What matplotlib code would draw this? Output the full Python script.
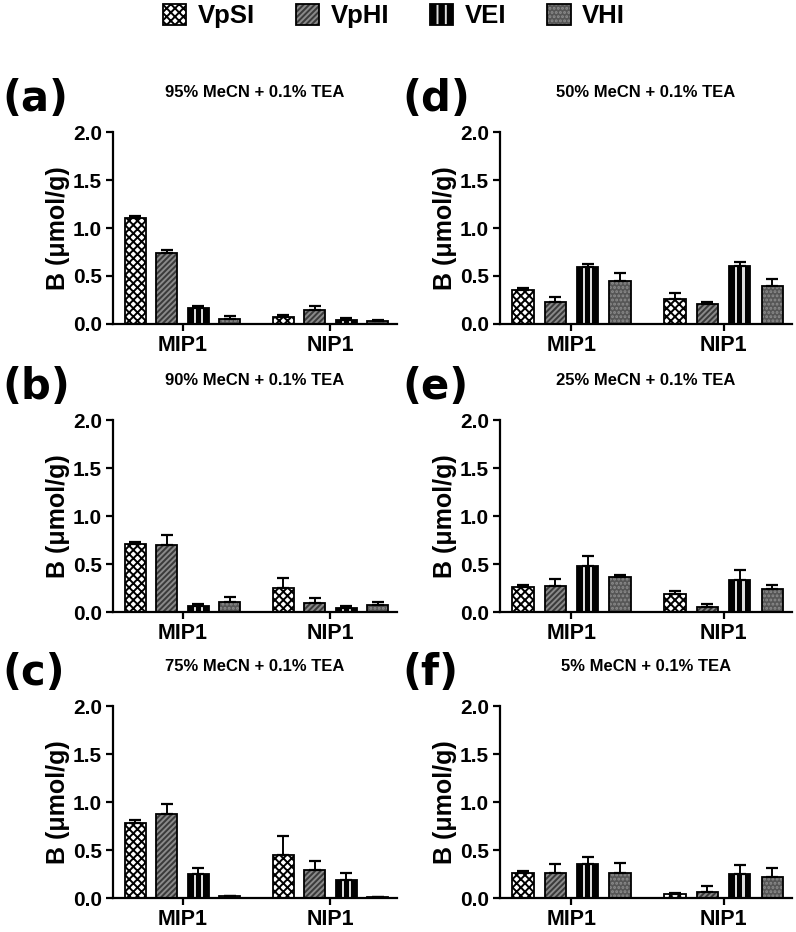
import numpy as np
import matplotlib
matplotlib.use('Agg')
import matplotlib.pyplot as plt
from matplotlib.patches import Patch
from matplotlib.legend_handler import HandlerTuple

plt.rcParams['font.family'] = ['Liberation Sans', 'DejaVu Sans']
plt.rcParams['font.weight'] = 'bold'
plt.rcParams['hatch.linewidth'] = 1.4

groups = ['MIP1', 'NIP1']
series = ['VpSI', 'VpHI', 'VEI', 'VHI']
panel_letters = ['(a)', '(b)', '(c)', '(d)', '(e)', '(f)']
panel_titles = ['95% MeCN + 0.1% TEA', '90% MeCN + 0.1% TEA', '75% MeCN + 0.1% TEA',
                '50% MeCN + 0.1% TEA', '25% MeCN + 0.1% TEA', '5% MeCN + 0.1% TEA']
y_ticks = [0.0, 0.5, 1.0, 1.5, 2.0]
y_label = 'B (μmol/g)'

# values: rows = series (VpSI, VpHI, VEI, VHI), cols = groups (MIP1, NIP1)
a_vals = [[1.10, 0.07], [0.74, 0.15], [0.17, 0.04], [0.05, 0.03]]
a_errs = [[0.02, 0.02], [0.03, 0.04], [0.02, 0.02], [0.03, 0.01]]
b_vals = [[0.71, 0.25], [0.70, 0.09], [0.06, 0.04], [0.10, 0.07]]
b_errs = [[0.02, 0.10], [0.10, 0.06], [0.02, 0.02], [0.06, 0.03]]
c_vals = [[0.78, 0.45], [0.87, 0.29], [0.25, 0.19], [0.02, 0.01]]
c_errs = [[0.03, 0.20], [0.11, 0.10], [0.06, 0.07], [0.005, 0.003]]
d_vals = [[0.35, 0.26], [0.23, 0.21], [0.59, 0.60], [0.45, 0.40]]
d_errs = [[0.03, 0.06], [0.05, 0.02], [0.04, 0.05], [0.08, 0.07]]
e_vals = [[0.26, 0.19], [0.27, 0.05], [0.48, 0.33], [0.36, 0.24]]
e_errs = [[0.02, 0.03], [0.07, 0.03], [0.10, 0.11], [0.03, 0.04]]
f_vals = [[0.26, 0.04], [0.26, 0.06], [0.35, 0.25], [0.26, 0.22]]
f_errs = [[0.02, 0.01], [0.09, 0.06], [0.08, 0.09], [0.10, 0.09]]

all_vals = [a_vals, b_vals, c_vals, d_vals, e_vals, f_vals]
all_errs = [a_errs, b_errs, c_errs, d_errs, e_errs, f_errs]

W, H = 796, 932
fig = plt.figure(figsize=(W / 100, H / 100), dpi=100)

col_left = [113, 500]
col_width = [284, 292]
letter_x = [2, 402]
row_top = [132, 420, 706]
ax_h = 192

spacing = 0.213
bw = 0.14

# styles: (facecolor, hatch, hatch color)
styles = [
    ('white', 'xxxx', 'black'),
    ('#3a3a3a', '//////', '#8a8a8a'),
    ('black', None, '#dcdcdc'),
    ('#565656', '....', '#8c8c8c'),
]

for p in range(6):
    col = p // 3
    row = p % 3
    l = col_left[col] / W
    b = 1 - (row_top[row] + ax_h) / H
    ax = fig.add_axes([l, b, col_width[col] / W, ax_h / H])
    vals = all_vals[p]
    errs = all_errs[p]
    xg = np.arange(len(groups))
    for i, s in enumerate(series):
        x = xg + (i - 1.5) * spacing
        v = np.array(vals[i])
        e = np.array(errs[i])
        fc, hatch, hc = styles[i]
        if hatch is not None:
            ax.bar(x, v, bw, color=fc, edgecolor=hc, hatch=hatch, linewidth=0, zorder=2)
        else:
            ax.bar(x, v, bw, color=fc, linewidth=0, zorder=2)
            for off in (-0.17, 0.17):
                ax.bar(x + off * bw, v, bw * 0.11, color=hc, linewidth=0, zorder=2.5)
        ax.bar(x, v, bw, facecolor='none', edgecolor='black', linewidth=1.3, zorder=3)
        ax.errorbar(x, v, yerr=[np.zeros_like(e), e], fmt='none', ecolor='black',
                    elinewidth=1.4, capsize=4.5, capthick=1.6, zorder=4)
    ax.set_xlim(-0.47, 1.45)
    ax.set_ylim(0, 2.0)
    ax.set_yticks(y_ticks)
    ax.set_yticklabels([f'{t:.1f}' for t in y_ticks], fontsize=15, fontweight='bold')
    ax.set_xticks(xg)
    ax.set_xticklabels(groups, fontsize=15.5, fontweight='bold')
    for sp in ['top', 'right']:
        ax.spines[sp].set_visible(False)
    for sp in ['left', 'bottom']:
        ax.spines[sp].set_linewidth(1.6)
    ax.tick_params(axis='both', direction='out', length=5, width=1.6, pad=3)
    ax.tick_params(axis='x', pad=3)
    ax.set_ylabel(y_label, fontsize=18, fontweight='bold', labelpad=2)
    ax.set_title(panel_titles[p], fontsize=12, fontweight='bold', pad=25)
    fig.text(letter_x[col] / W, 1 - (row_top[row] - 33) / H, panel_letters[p],
             fontsize=30, fontweight='bold', family='DejaVu Sans', ha='left', va='center')

handles = []
for i, s in enumerate(series):
    fc, hatch, hc = styles[i]
    if hatch is not None:
        fill = Patch(facecolor=fc, edgecolor=hc, hatch=hatch, linewidth=0)
    else:
        fill = Patch(facecolor=fc, edgecolor=hc, hatch='||', linewidth=0)
    outline = Patch(facecolor='none', edgecolor='black', linewidth=1.3)
    handles.append((fill, outline))
fig.legend(handles, series, loc='center', bbox_to_anchor=(0.495, 1 - 16 / H), ncol=4,
           frameon=False, fontsize=18.5, handlelength=0.9, handleheight=0.9,
           columnspacing=1.6, handletextpad=0.45,
           handler_map={tuple: HandlerTuple(ndivide=1, pad=0)})

fig.savefig('out.png', dpi=100)
